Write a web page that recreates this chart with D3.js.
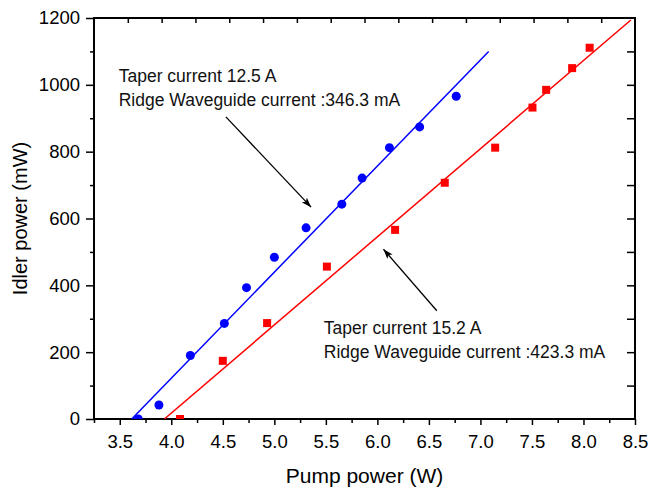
<!DOCTYPE html>
<html>
<head>
<meta charset="utf-8">
<script src="https://cdn.jsdelivr.net/npm/d3@7"></script>
<style>
  body { margin: 0; background: #fff; }
  text { font-family: "Liberation Sans", Arial, sans-serif; }
</style>
</head>
<body>
<div id="chart"></div>
<script>
// Measured data (pump power in W, idler power in mW)
const blueX = [3.68, 3.88, 4.185, 4.515, 4.73, 5.0, 5.308, 5.655, 5.852, 6.117, 6.41, 6.765];
const blueY = [0, 42, 190, 286, 393, 484, 572, 643, 721, 812, 874, 966];
const redX = [4.085, 4.5, 4.93, 5.51, 6.172, 6.654, 7.143, 7.505, 7.638, 7.89, 8.06];
const redY = [0, 174, 287, 456, 566, 707, 812, 932, 985, 1050, 1111];

// Linear fits drawn as straight segments
const blueFit = [[3.616, 0], [7.08, 1100]];
const redFit = [[3.933, 0], [8.46, 1194]];

const xTicks = [3.5, 4.0, 4.5, 5.0, 5.5, 6.0, 6.5, 7.0, 7.5, 8.0, 8.5];
const yTicks = [0, 200, 400, 600, 800, 1000, 1200];

const width = 651, height = 489;
const margin = {top: 18, right: 16, bottom: 70, left: 94};
const innerW = width - margin.left - margin.right;
const innerH = height - margin.top - margin.bottom;

const svg = d3.select("#chart").append("svg")
    .attr("width", width)
    .attr("height", height);

const g = svg.append("g")
    .attr("transform", `translate(${margin.left},${margin.top})`);

const x = d3.scaleLinear().domain([3.25, 8.5]).range([0, innerW]);
const y = d3.scaleLinear().domain([0, 1200]).range([innerH, 0]);
// top axis in Origin has its own 16 equal divisions
const xTop = d3.scaleLinear().domain([0, 16]).range([0, innerW]);

svg.append("defs").append("clipPath").attr("id", "clip")
    .append("rect").attr("width", innerW).attr("height", innerH);

// bottom axis: major ticks with labels, minor ticks every 0.25
const minorX = d3.range(3.25, 8.51, 0.25).filter(v => Math.abs((v * 2) % 1) > 0.01);
g.append("g")
    .attr("transform", `translate(0,${innerH})`)
    .call(d3.axisBottom(x).tickValues(minorX).tickSize(4).tickFormat(""))
    .call(a => a.select(".domain").remove());
g.append("g")
    .attr("class", "x-axis")
    .attr("transform", `translate(0,${innerH})`)
    .call(d3.axisBottom(x).tickValues(xTicks).tickSize(6).tickPadding(10).tickFormat(d3.format(".1f")))
    .call(a => a.select(".domain").remove());

// left axis
const minorY = d3.range(100, 1200, 200);
g.append("g")
    .call(d3.axisLeft(y).tickValues(minorY).tickSize(4).tickFormat(""))
    .call(a => a.select(".domain").remove());
g.append("g")
    .attr("class", "y-axis")
    .call(d3.axisLeft(y).tickValues(yTicks).tickSize(8).tickPadding(6).tickFormat(d3.format("d")))
    .call(a => a.select(".domain").remove());

// top axis, ticks pointing inward
g.append("g")
    .call(d3.axisBottom(xTop).tickValues(d3.range(1, 16)).tickSize(5).tickFormat(""))
    .call(a => a.select(".domain").remove());

// right axis, ticks pointing inward
g.append("g")
    .attr("transform", `translate(${innerW},0)`)
    .call(d3.axisLeft(y).tickValues(d3.range(100, 1200, 100)).tickSize(8).tickFormat(""))
    .call(a => a.select(".domain").remove());

g.selectAll(".tick line").attr("stroke", "#000").attr("stroke-width", 1.5);
g.selectAll(".tick text").attr("fill", "#000").style("font-size", "18.5px");

// frame
g.append("rect")
    .attr("width", innerW)
    .attr("height", innerH)
    .attr("fill", "none")
    .attr("stroke", "#000")
    .attr("stroke-width", 2);

// fit lines
const line = d3.line().x(d => x(d[0])).y(d => y(d[1]));
const plot = g.append("g").attr("clip-path", "url(#clip)");
plot.append("path").datum(blueFit).attr("d", line)
    .attr("stroke", "#0000ff").attr("stroke-width", 1.5).attr("fill", "none");
plot.append("path").datum(redFit).attr("d", line)
    .attr("stroke", "#ff0000").attr("stroke-width", 1.5).attr("fill", "none");

// markers
plot.selectAll(".blue-pt")
    .data(d3.zip(blueX, blueY))
    .enter().append("circle")
    .attr("class", "blue-pt")
    .attr("cx", d => x(d[0]))
    .attr("cy", d => y(d[1]))
    .attr("r", 4.5)
    .attr("fill", "#0000ff");

const sq = 8;
plot.selectAll(".red-pt")
    .data(d3.zip(redX, redY))
    .enter().append("rect")
    .attr("class", "red-pt")
    .attr("x", d => x(d[0]) - sq / 2)
    .attr("y", d => y(d[1]) - sq / 2)
    .attr("width", sq)
    .attr("height", sq)
    .attr("fill", "#ff0000");

// annotations
svg.append("defs").append("marker")
    .attr("id", "arrow")
    .attr("viewBox", "0 0 10 10")
    .attr("refX", 10).attr("refY", 5)
    .attr("markerWidth", 10).attr("markerHeight", 10)
    .attr("markerUnits", "userSpaceOnUse")
    .attr("orient", "auto")
    .append("path")
    .attr("d", "M0,1.5 L10,5 L0,8.5 L2.5,5 Z")
    .attr("fill", "#000");

const notes = [
    {x: 3.49, y: 1008, lines: ["Taper current 12.5 A", "Ridge Waveguide current :346.3 mA"],
     arrow: [[4.53, 904], [5.357, 634]]},
    {x: 5.48, y: 254, lines: ["Taper current 15.2 A", "Ridge Waveguide current :423.3 mA"],
     arrow: [[6.577, 324], [6.059, 508]]}
];

notes.forEach(n => {
    const t = g.append("text")
        .attr("x", x(n.x))
        .attr("y", y(n.y))
        .attr("fill", "#111")
        .style("font-size", "17.5px");
    n.lines.forEach((s, i) => {
        t.append("tspan").attr("x", x(n.x)).attr("dy", i === 0 ? 0 : 24).text(s);
    });
    g.append("line")
        .attr("x1", x(n.arrow[0][0])).attr("y1", y(n.arrow[0][1]))
        .attr("x2", x(n.arrow[1][0])).attr("y2", y(n.arrow[1][1]))
        .attr("stroke", "#000").attr("stroke-width", 1.3)
        .attr("marker-end", "url(#arrow)");
});

// axis titles
svg.append("text")
    .attr("x", margin.left + innerW / 2)
    .attr("y", 483)
    .attr("text-anchor", "middle")
    .style("font-size", "21px")
    .text("Pump power (W)");

svg.append("text")
    .attr("transform", `translate(27,${margin.top + innerH / 2}) rotate(-90)`)
    .attr("text-anchor", "middle")
    .style("font-size", "20px")
    .text("Idler power (mW)");
</script>
</body>
</html>
